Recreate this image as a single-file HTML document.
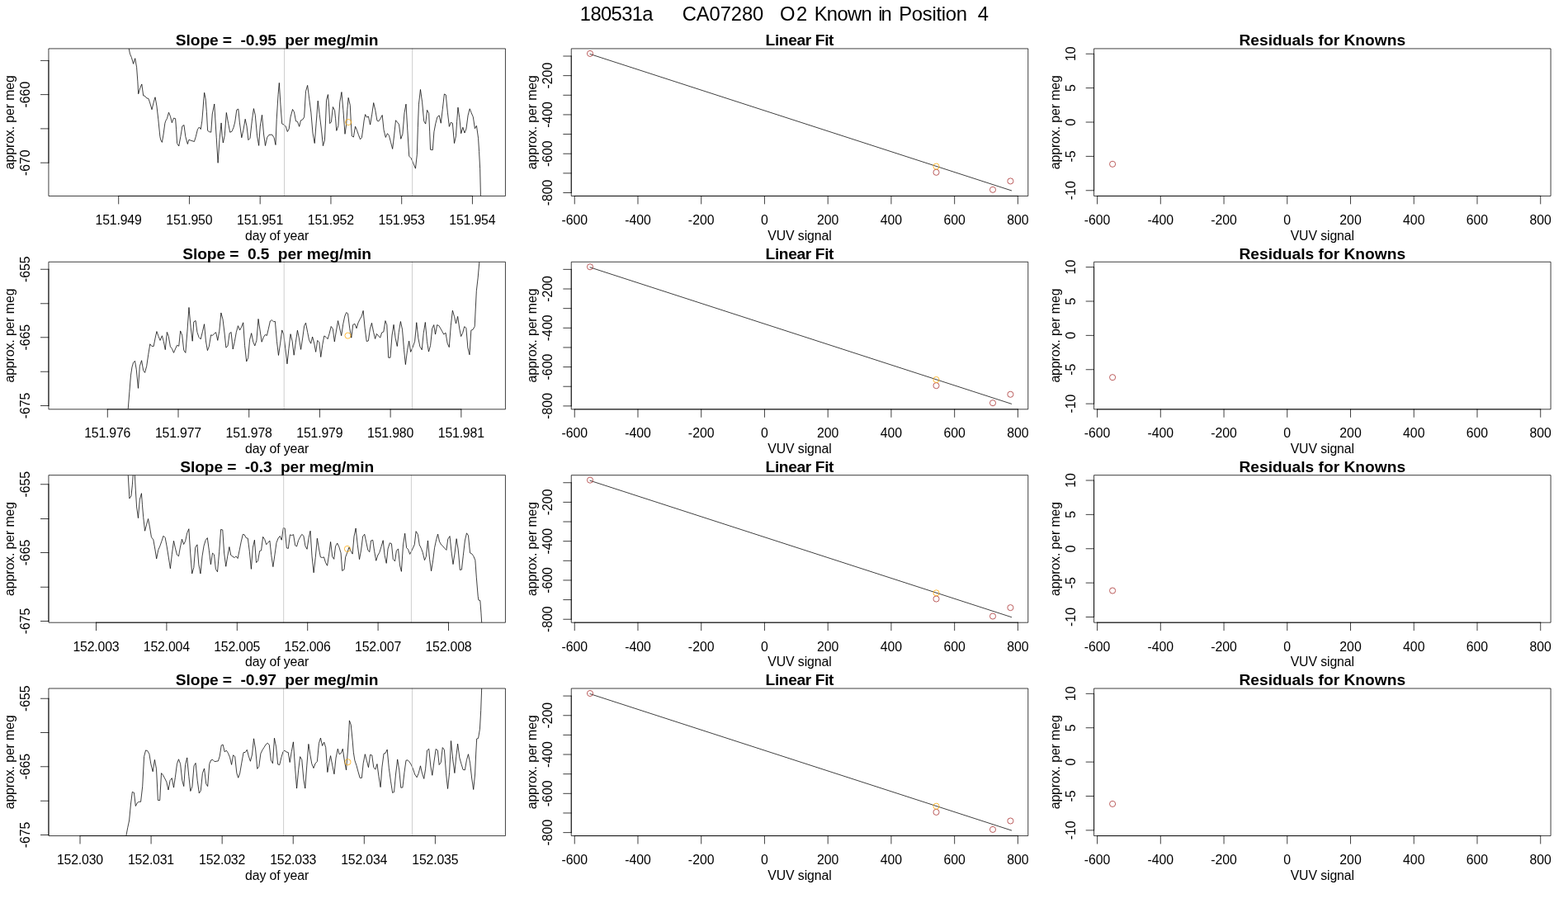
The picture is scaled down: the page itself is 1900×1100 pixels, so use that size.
<!DOCTYPE html>
<html><head><meta charset="utf-8"><title>O2 Known in Position 4</title>
<style>html,body{margin:0;padding:0;background:#fff}body{width:1900px;height:1100px;overflow:hidden}</style></head>
<body>
<svg width="1900" height="1100" viewBox="0 0 1900 1100" style="display:block">
<rect width="1900" height="1100" fill="#fff"/>
<g font-family='"Liberation Sans", Arial, Helvetica, sans-serif' fill="#000" stroke="none">
<text y="24.6" font-size="23.76" text-anchor="start" xml:space="preserve"><tspan x="702.87" textLength="88.66" lengthAdjust="spacing">180531a</tspan><tspan> </tspan><tspan x="826.68" textLength="98.64" lengthAdjust="spacing">CA07280</tspan><tspan> </tspan><tspan x="945.06" textLength="33.18" lengthAdjust="spacing">O2</tspan><tspan> </tspan><tspan x="986.69" textLength="70.02" lengthAdjust="spacing">Known</tspan><tspan> </tspan><tspan x="1064.26" textLength="16.39" lengthAdjust="spacing">in</tspan><tspan> </tspan><tspan x="1089.15" textLength="82.89" lengthAdjust="spacing">Position</tspan><tspan> </tspan><tspan x="1184.70" textLength="13.91" lengthAdjust="spacing">4</tspan></text>
<text x="335.67" y="55.32" font-size="19.2" text-anchor="middle" font-weight="bold" textLength="245.82" lengthAdjust="spacing" xml:space="preserve">Slope =  -0.95  per meg/min</text>
<clipPath id="c0"><rect x="58.925" y="58.925" width="553.500" height="178.534"/></clipPath>
<polyline points="156.22,58.87 157.46,65.11 159.33,69.47 161.58,77.33 163.70,70.72 165.57,81.32 166.82,98.16 167.69,113.76 169.69,106.89 171.81,101.91 173.68,115.88 175.55,116.25 177.80,118.99 179.92,119.37 181.79,124.98 184.03,132.72 186.40,123.11 188.02,117.75 189.89,128.10 191.77,144.32 193.89,165.52 194.88,169.89 196.38,172.38 198.00,163.03 199.87,149.31 200.87,146.19 202.37,143.69 204.49,136.21 206.48,141.20 208.36,148.68 210.48,143.07 212.60,143.69 213.59,156.79 214.59,173.63 216.71,177.00 218.83,165.52 220.83,153.05 222.95,151.43 224.82,165.52 227.32,174.50 228.94,169.26 231.06,170.14 235.42,171.51 237.29,165.52 239.42,156.79 241.41,154.05 243.28,156.54 244.78,146.81 246.03,131.84 246.90,119.37 247.65,112.26 249.14,119.99 250.39,135.58 251.64,158.29 253.51,159.66 255.76,160.16 257.25,138.08 259.75,125.98 260.75,143.07 262.24,166.77 264.11,197.33 265.98,169.26 268.10,148.93 269.10,164.27 270.35,173.01 272.22,164.27 274.34,136.46 276.59,149.31 278.71,160.28 280.95,159.28 283.07,154.29 284.69,148.06 286.82,133.09 288.81,132.09 290.31,148.06 292.80,166.77 294.92,157.41 297.17,144.32 299.04,153.05 300.91,169.64 303.03,167.39 305.28,146.81 307.40,131.59 309.27,139.33 311.51,164.27 313.63,176.37 315.26,153.05 317.50,139.33 319.62,163.03 321.49,176.50 323.61,166.77 325.86,163.40 329.60,163.03 332.09,166.77 333.97,175.50 335.21,144.32 337.08,114.38 338.33,100.41 339.95,126.85 341.70,149.93 344.19,151.18 346.19,153.05 348.31,159.53 350.18,156.17 352.05,141.82 354.55,132.47 356.42,135.58 358.54,146.81 360.53,147.43 362.66,153.30 364.53,145.81 366.65,144.94 368.64,141.82 370.51,110.64 372.63,103.40 374.74,119.92 376.86,136.13 378.98,161.08 381.23,173.55 383.10,149.85 385.22,122.16 387.21,138.63 389.33,156.09 391.45,176.67 393.45,169.81 394.57,146.11 395.57,121.16 397.44,114.55 398.69,129.89 399.69,149.60 401.43,147.73 403.43,129.52 405.55,133.64 406.55,143.62 407.80,158.33 409.92,152.35 411.79,123.66 413.91,111.56 415.90,133.64 418.02,162.33 419.65,151.10 420.89,132.39 422.14,118.42 424.26,127.40 425.26,147.36 426.38,164.82 428.38,166.07 430.50,153.22 432.37,157.34 434.49,163.57 436.48,168.81 438.36,166.69 439.85,156.09 441.10,146.11 442.60,138.63 444.47,142.12 446.46,141.12 448.58,151.10 450.70,138.63 452.70,124.53 454.82,133.64 456.94,146.11 458.81,146.98 461.06,143.62 463.18,139.50 465.05,157.34 467.29,166.44 469.42,161.70 471.41,164.20 473.53,172.31 475.65,180.41 477.52,164.82 479.52,145.74 481.39,147.98 483.51,150.85 485.76,168.31 487.88,162.33 490.00,136.76 491.99,126.15 493.86,158.58 495.73,189.14 498.10,191.64 500.35,196.63 503.47,204.11 505.34,187.27 506.34,154.84 507.46,126.15 509.46,108.44 511.58,123.66 513.70,146.73 515.69,150.10 517.56,133.39 519.68,137.38 520.68,159.83 521.56,181.29 524.30,181.66 525.92,159.83 527.79,149.85 529.91,141.74 532.16,139.87 534.28,149.23 536.27,132.39 538.39,113.93 540.27,114.93 542.39,136.13 544.38,153.35 546.25,148.36 548.37,149.23 550.49,173.55 552.49,164.82 553.61,147.36 554.98,130.14 556.73,142.37 558.73,161.70 560.85,154.22 562.97,161.08 564.96,156.09 567.08,139.87 569.20,131.77 571.20,136.76 573.32,141.74 575.44,155.72 577.44,152.35 579.56,167.32 580.56,183.53 581.68,204.74 582.43,237.42" fill="none" stroke="#000" stroke-width="0.75" stroke-linejoin="round" clip-path="url(#c0)"/>
<line x1="344.50" y1="58.92" x2="344.50" y2="237.46" stroke="#BEBEBE" stroke-width="0.75" stroke-linecap="round"/>
<line x1="499.65" y1="58.92" x2="499.65" y2="237.46" stroke="#BEBEBE" stroke-width="0.75" stroke-linecap="round"/>
<circle cx="422.10" cy="148.00" r="3.56" fill="none" stroke="#FFA500" stroke-width="0.75"/>
<rect x="58.925" y="58.925" width="553.500" height="178.534" fill="none" stroke="#000" stroke-width="0.75" stroke-linejoin="round"/>
<line x1="143.70" y1="237.46" x2="572.45" y2="237.46" stroke="#000" stroke-width="0.75" stroke-linecap="round"/>
<line x1="143.70" y1="237.46" x2="143.70" y2="246.96" stroke="#000" stroke-width="0.75" stroke-linecap="round"/>
<text x="143.70" y="272.00" font-size="15.84" text-anchor="middle" textLength="56.21" lengthAdjust="spacing" xml:space="preserve">151.949</text>
<line x1="229.45" y1="237.46" x2="229.45" y2="246.96" stroke="#000" stroke-width="0.75" stroke-linecap="round"/>
<text x="229.45" y="272.00" font-size="15.84" text-anchor="middle" textLength="56.21" lengthAdjust="spacing" xml:space="preserve">151.950</text>
<line x1="315.20" y1="237.46" x2="315.20" y2="246.96" stroke="#000" stroke-width="0.75" stroke-linecap="round"/>
<text x="315.20" y="272.00" font-size="15.84" text-anchor="middle" textLength="56.21" lengthAdjust="spacing" xml:space="preserve">151.951</text>
<line x1="400.95" y1="237.46" x2="400.95" y2="246.96" stroke="#000" stroke-width="0.75" stroke-linecap="round"/>
<text x="400.95" y="272.00" font-size="15.84" text-anchor="middle" textLength="56.21" lengthAdjust="spacing" xml:space="preserve">151.952</text>
<line x1="486.70" y1="237.46" x2="486.70" y2="246.96" stroke="#000" stroke-width="0.75" stroke-linecap="round"/>
<text x="486.70" y="272.00" font-size="15.84" text-anchor="middle" textLength="56.21" lengthAdjust="spacing" xml:space="preserve">151.953</text>
<line x1="572.45" y1="237.46" x2="572.45" y2="246.96" stroke="#000" stroke-width="0.75" stroke-linecap="round"/>
<text x="572.45" y="272.00" font-size="15.84" text-anchor="middle" textLength="56.21" lengthAdjust="spacing" xml:space="preserve">151.954</text>
<text x="335.67" y="291.00" font-size="15.84" text-anchor="middle" textLength="77.21" lengthAdjust="spacing" xml:space="preserve">day of year</text>
<line x1="49.42" y1="73.40" x2="58.92" y2="73.40" stroke="#000" stroke-width="0.75" stroke-linecap="round"/>
<line x1="49.42" y1="114.60" x2="58.92" y2="114.60" stroke="#000" stroke-width="0.75" stroke-linecap="round"/>
<text x="36.12" y="114.60" font-size="15.84" text-anchor="middle" transform="rotate(-90 36.12 114.60)" xml:space="preserve">-660</text>
<line x1="49.42" y1="155.90" x2="58.92" y2="155.90" stroke="#000" stroke-width="0.75" stroke-linecap="round"/>
<line x1="49.42" y1="197.20" x2="58.92" y2="197.20" stroke="#000" stroke-width="0.75" stroke-linecap="round"/>
<text x="36.12" y="197.20" font-size="15.84" text-anchor="middle" transform="rotate(-90 36.12 197.20)" xml:space="preserve">-670</text>
<line x1="58.92" y1="73.40" x2="58.92" y2="197.20" stroke="#000" stroke-width="0.75" stroke-linecap="round"/>
<text x="17.02" y="148.19" font-size="15.84" text-anchor="middle" transform="rotate(-90 17.02 148.19)" textLength="114.06" lengthAdjust="spacing" xml:space="preserve">approx. per meg</text>
<text x="969.01" y="55.32" font-size="19.2" text-anchor="middle" font-weight="bold" textLength="82.95" lengthAdjust="spacing" xml:space="preserve">Linear Fit</text>
<rect x="692.258" y="58.925" width="553.500" height="178.534" fill="none" stroke="#000" stroke-width="0.75" stroke-linejoin="round"/>
<line x1="696.24" y1="237.46" x2="696.24" y2="246.96" stroke="#000" stroke-width="0.75" stroke-linecap="round"/>
<text x="696.24" y="272.00" font-size="15.84" text-anchor="middle" xml:space="preserve">-600</text>
<line x1="772.98" y1="237.46" x2="772.98" y2="246.96" stroke="#000" stroke-width="0.75" stroke-linecap="round"/>
<text x="772.98" y="272.00" font-size="15.84" text-anchor="middle" xml:space="preserve">-400</text>
<line x1="849.71" y1="237.46" x2="849.71" y2="246.96" stroke="#000" stroke-width="0.75" stroke-linecap="round"/>
<text x="849.71" y="272.00" font-size="15.84" text-anchor="middle" xml:space="preserve">-200</text>
<line x1="926.45" y1="237.46" x2="926.45" y2="246.96" stroke="#000" stroke-width="0.75" stroke-linecap="round"/>
<text x="926.45" y="272.00" font-size="15.84" text-anchor="middle" xml:space="preserve">0</text>
<line x1="1003.19" y1="237.46" x2="1003.19" y2="246.96" stroke="#000" stroke-width="0.75" stroke-linecap="round"/>
<text x="1003.19" y="272.00" font-size="15.84" text-anchor="middle" xml:space="preserve">200</text>
<line x1="1079.92" y1="237.46" x2="1079.92" y2="246.96" stroke="#000" stroke-width="0.75" stroke-linecap="round"/>
<text x="1079.92" y="272.00" font-size="15.84" text-anchor="middle" xml:space="preserve">400</text>
<line x1="1156.66" y1="237.46" x2="1156.66" y2="246.96" stroke="#000" stroke-width="0.75" stroke-linecap="round"/>
<text x="1156.66" y="272.00" font-size="15.84" text-anchor="middle" xml:space="preserve">600</text>
<line x1="1233.39" y1="237.46" x2="1233.39" y2="246.96" stroke="#000" stroke-width="0.75" stroke-linecap="round"/>
<text x="1233.39" y="272.00" font-size="15.84" text-anchor="middle" xml:space="preserve">800</text>
<line x1="696.24" y1="237.46" x2="1233.39" y2="237.46" stroke="#000" stroke-width="0.75" stroke-linecap="round"/>
<line x1="682.75" y1="233.50" x2="692.26" y2="233.50" stroke="#000" stroke-width="0.75" stroke-linecap="round"/>
<text x="669.46" y="233.50" font-size="15.84" text-anchor="middle" transform="rotate(-90 669.46 233.50)" xml:space="preserve">-800</text>
<line x1="682.75" y1="209.86" x2="692.26" y2="209.86" stroke="#000" stroke-width="0.75" stroke-linecap="round"/>
<line x1="682.75" y1="186.22" x2="692.26" y2="186.22" stroke="#000" stroke-width="0.75" stroke-linecap="round"/>
<text x="669.46" y="186.22" font-size="15.84" text-anchor="middle" transform="rotate(-90 669.46 186.22)" xml:space="preserve">-600</text>
<line x1="682.75" y1="162.57" x2="692.26" y2="162.57" stroke="#000" stroke-width="0.75" stroke-linecap="round"/>
<line x1="682.75" y1="138.93" x2="692.26" y2="138.93" stroke="#000" stroke-width="0.75" stroke-linecap="round"/>
<text x="669.46" y="138.93" font-size="15.84" text-anchor="middle" transform="rotate(-90 669.46 138.93)" xml:space="preserve">-400</text>
<line x1="682.75" y1="115.29" x2="692.26" y2="115.29" stroke="#000" stroke-width="0.75" stroke-linecap="round"/>
<line x1="682.75" y1="91.64" x2="692.26" y2="91.64" stroke="#000" stroke-width="0.75" stroke-linecap="round"/>
<text x="669.46" y="91.64" font-size="15.84" text-anchor="middle" transform="rotate(-90 669.46 91.64)" xml:space="preserve">-200</text>
<line x1="682.75" y1="68.00" x2="692.26" y2="68.00" stroke="#000" stroke-width="0.75" stroke-linecap="round"/>
<line x1="692.26" y1="233.50" x2="692.26" y2="68.00" stroke="#000" stroke-width="0.75" stroke-linecap="round"/>
<text x="650.36" y="148.19" font-size="15.84" text-anchor="middle" transform="rotate(-90 650.36 148.19)" textLength="114.06" lengthAdjust="spacing" xml:space="preserve">approx. per meg</text>
<text x="969.01" y="291.00" font-size="15.84" text-anchor="middle" textLength="77.40" lengthAdjust="spacing" xml:space="preserve">VUV signal</text>
<line x1="715.00" y1="65.50" x2="1225.60" y2="230.90" stroke="#000" stroke-width="0.75" stroke-linecap="round"/>
<circle cx="715.00" cy="64.90" r="3.56" fill="none" stroke="#A52A2A" stroke-width="0.75"/>
<circle cx="1134.50" cy="208.80" r="3.56" fill="none" stroke="#A52A2A" stroke-width="0.75"/>
<circle cx="1203.00" cy="229.80" r="3.56" fill="none" stroke="#A52A2A" stroke-width="0.75"/>
<circle cx="1224.40" cy="219.40" r="3.56" fill="none" stroke="#A52A2A" stroke-width="0.75"/>
<circle cx="1134.50" cy="201.60" r="3.56" fill="none" stroke="#FFA500" stroke-width="0.75"/>
<text x="1602.34" y="55.32" font-size="19.2" text-anchor="middle" font-weight="bold" textLength="201.70" lengthAdjust="spacing" xml:space="preserve">Residuals for Knowns</text>
<rect x="1325.591" y="58.925" width="553.500" height="178.534" fill="none" stroke="#000" stroke-width="0.75" stroke-linejoin="round"/>
<line x1="1329.58" y1="237.46" x2="1329.58" y2="246.96" stroke="#000" stroke-width="0.75" stroke-linecap="round"/>
<text x="1329.58" y="272.00" font-size="15.84" text-anchor="middle" xml:space="preserve">-600</text>
<line x1="1406.31" y1="237.46" x2="1406.31" y2="246.96" stroke="#000" stroke-width="0.75" stroke-linecap="round"/>
<text x="1406.31" y="272.00" font-size="15.84" text-anchor="middle" xml:space="preserve">-400</text>
<line x1="1483.05" y1="237.46" x2="1483.05" y2="246.96" stroke="#000" stroke-width="0.75" stroke-linecap="round"/>
<text x="1483.05" y="272.00" font-size="15.84" text-anchor="middle" xml:space="preserve">-200</text>
<line x1="1559.78" y1="237.46" x2="1559.78" y2="246.96" stroke="#000" stroke-width="0.75" stroke-linecap="round"/>
<text x="1559.78" y="272.00" font-size="15.84" text-anchor="middle" xml:space="preserve">0</text>
<line x1="1636.52" y1="237.46" x2="1636.52" y2="246.96" stroke="#000" stroke-width="0.75" stroke-linecap="round"/>
<text x="1636.52" y="272.00" font-size="15.84" text-anchor="middle" xml:space="preserve">200</text>
<line x1="1713.26" y1="237.46" x2="1713.26" y2="246.96" stroke="#000" stroke-width="0.75" stroke-linecap="round"/>
<text x="1713.26" y="272.00" font-size="15.84" text-anchor="middle" xml:space="preserve">400</text>
<line x1="1789.99" y1="237.46" x2="1789.99" y2="246.96" stroke="#000" stroke-width="0.75" stroke-linecap="round"/>
<text x="1789.99" y="272.00" font-size="15.84" text-anchor="middle" xml:space="preserve">600</text>
<line x1="1866.73" y1="237.46" x2="1866.73" y2="246.96" stroke="#000" stroke-width="0.75" stroke-linecap="round"/>
<text x="1866.73" y="272.00" font-size="15.84" text-anchor="middle" xml:space="preserve">800</text>
<line x1="1329.58" y1="237.46" x2="1866.73" y2="237.46" stroke="#000" stroke-width="0.75" stroke-linecap="round"/>
<line x1="1316.09" y1="230.75" x2="1325.59" y2="230.75" stroke="#000" stroke-width="0.75" stroke-linecap="round"/>
<text x="1302.79" y="230.75" font-size="15.84" text-anchor="middle" transform="rotate(-90 1302.79 230.75)" xml:space="preserve">-10</text>
<line x1="1316.09" y1="189.38" x2="1325.59" y2="189.38" stroke="#000" stroke-width="0.75" stroke-linecap="round"/>
<text x="1302.79" y="189.38" font-size="15.84" text-anchor="middle" transform="rotate(-90 1302.79 189.38)" xml:space="preserve">-5</text>
<line x1="1316.09" y1="148.00" x2="1325.59" y2="148.00" stroke="#000" stroke-width="0.75" stroke-linecap="round"/>
<text x="1302.79" y="148.00" font-size="15.84" text-anchor="middle" transform="rotate(-90 1302.79 148.00)" xml:space="preserve">0</text>
<line x1="1316.09" y1="106.62" x2="1325.59" y2="106.62" stroke="#000" stroke-width="0.75" stroke-linecap="round"/>
<text x="1302.79" y="106.62" font-size="15.84" text-anchor="middle" transform="rotate(-90 1302.79 106.62)" xml:space="preserve">5</text>
<line x1="1316.09" y1="65.25" x2="1325.59" y2="65.25" stroke="#000" stroke-width="0.75" stroke-linecap="round"/>
<text x="1302.79" y="65.25" font-size="15.84" text-anchor="middle" transform="rotate(-90 1302.79 65.25)" xml:space="preserve">10</text>
<line x1="1325.59" y1="230.75" x2="1325.59" y2="65.25" stroke="#000" stroke-width="0.75" stroke-linecap="round"/>
<text x="1283.69" y="148.19" font-size="15.84" text-anchor="middle" transform="rotate(-90 1283.69 148.19)" textLength="114.06" lengthAdjust="spacing" xml:space="preserve">approx. per meg</text>
<text x="1602.34" y="291.00" font-size="15.84" text-anchor="middle" textLength="77.40" lengthAdjust="spacing" xml:space="preserve">VUV signal</text>
<circle cx="1348.10" cy="198.80" r="3.56" fill="none" stroke="#A52A2A" stroke-width="0.75"/>
<text x="335.67" y="313.69" font-size="19.2" text-anchor="middle" font-weight="bold" textLength="228.86" lengthAdjust="spacing" xml:space="preserve">Slope =  0.5  per meg/min</text>
<clipPath id="c1"><rect x="58.925" y="317.293" width="553.500" height="178.534"/></clipPath>
<polyline points="155.24,495.09 156.86,474.76 158.48,454.80 159.98,444.82 161.60,439.21 163.47,437.34 165.22,447.32 167.46,470.39 169.33,443.57 171.58,436.71 173.70,448.81 175.57,451.43 177.69,443.57 179.69,429.85 181.81,416.76 183.68,419.25 186.17,419.50 188.04,409.89 189.92,401.54 192.04,407.40 194.03,412.39 196.40,406.78 198.27,413.64 200.27,423.62 202.39,402.41 204.26,407.40 206.38,419.87 208.38,422.37 210.50,427.36 212.37,422.99 214.49,418.25 216.73,419.25 218.61,400.91 220.73,406.15 222.72,424.24 224.84,427.36 226.96,401.16 228.96,372.47 231.08,396.17 233.20,413.26 234.82,389.94 237.07,388.44 238.94,402.41 241.06,408.65 243.18,410.89 245.42,401.79 247.54,392.68 249.42,413.01 251.41,424.61 253.28,419.87 255.65,405.78 257.52,406.40 259.52,404.28 261.64,402.66 263.76,412.39 265.76,401.16 267.88,378.96 270.00,386.82 271.99,403.03 273.86,421.12 275.98,419.25 278.10,403.91 280.10,402.41 282.22,422.99 284.34,413.64 286.34,402.41 288.46,394.68 290.58,399.92 292.57,396.17 294.69,390.81 296.57,418.63 298.69,437.96 300.68,433.59 302.55,411.77 304.67,403.66 306.79,414.26 308.79,418.88 310.91,412.39 313.03,386.44 315.03,399.92 317.15,414.26 319.27,408.65 321.26,405.53 323.38,406.40 325.26,398.67 327.38,388.94 329.37,387.69 331.49,389.69 333.36,389.31 335.48,413.64 337.48,430.48 339.60,416.13 341.72,399.92 343.72,404.91 345.84,422.37 347.96,440.83 349.95,422.37 352.07,404.66 354.19,413.64 356.19,430.23 358.31,414.88 360.43,400.17 362.43,409.89 364.55,423.37 366.67,409.89 368.66,394.93 370.53,391.18 372.66,402.41 374.53,411.77 376.65,416.13 378.64,408.02 380.76,416.13 382.63,426.36 384.74,412.42 386.86,414.79 388.73,432.50 390.85,417.28 392.85,406.93 394.97,408.30 397.09,410.67 399.08,404.19 401.21,395.46 403.33,398.57 405.32,413.92 407.44,401.07 409.56,388.59 411.56,397.33 413.68,406.68 415.80,392.34 417.80,382.98 419.67,378.62 421.54,379.86 423.66,397.33 425.78,409.18 427.77,393.33 429.89,392.34 432.02,397.70 434.01,391.09 436.13,386.72 438.25,382.98 440.12,376.37 442.12,397.33 444.24,413.54 446.36,412.92 448.36,398.57 450.48,391.34 452.60,402.32 454.59,410.42 456.46,404.44 458.58,406.93 460.70,409.18 462.70,402.94 464.82,401.94 466.94,388.59 468.81,393.58 470.68,433.25 472.93,433.25 475.05,406.06 477.05,393.33 479.17,409.80 481.29,419.53 483.28,402.32 485.40,389.47 487.52,399.20 489.52,423.52 491.39,441.61 493.51,424.77 495.63,413.17 497.63,426.39 500.00,421.03 502.62,413.54 504.74,390.72 506.86,409.80 508.85,419.78 511.22,423.77 513.22,403.56 515.34,390.47 517.46,413.54 519.46,426.02 521.58,418.53 523.70,397.95 525.69,393.58 527.56,405.06 529.68,393.58 531.80,394.58 533.80,397.95 535.92,401.69 537.79,405.06 540.04,403.19 542.16,416.04 544.28,420.65 546.27,394.83 548.39,376.12 550.52,383.36 552.51,391.96 554.63,383.36 556.75,397.95 558.62,407.55 560.62,403.56 562.74,395.70 564.86,397.33 566.86,421.03 568.98,429.76 570.85,400.20 573.09,399.20 575.21,395.46 576.21,374.87 577.33,352.42 579.20,336.21 580.83,317.25" fill="none" stroke="#000" stroke-width="0.75" stroke-linejoin="round" clip-path="url(#c1)"/>
<line x1="344.20" y1="317.29" x2="344.20" y2="495.83" stroke="#BEBEBE" stroke-width="0.75" stroke-linecap="round"/>
<line x1="499.45" y1="317.29" x2="499.45" y2="495.83" stroke="#BEBEBE" stroke-width="0.75" stroke-linecap="round"/>
<circle cx="421.50" cy="406.60" r="3.56" fill="none" stroke="#FFA500" stroke-width="0.75"/>
<rect x="58.925" y="317.293" width="553.500" height="178.534" fill="none" stroke="#000" stroke-width="0.75" stroke-linejoin="round"/>
<line x1="130.30" y1="495.83" x2="558.85" y2="495.83" stroke="#000" stroke-width="0.75" stroke-linecap="round"/>
<line x1="130.30" y1="495.83" x2="130.30" y2="505.33" stroke="#000" stroke-width="0.75" stroke-linecap="round"/>
<text x="130.30" y="530.00" font-size="15.84" text-anchor="middle" textLength="56.21" lengthAdjust="spacing" xml:space="preserve">151.976</text>
<line x1="216.01" y1="495.83" x2="216.01" y2="505.33" stroke="#000" stroke-width="0.75" stroke-linecap="round"/>
<text x="216.01" y="530.00" font-size="15.84" text-anchor="middle" textLength="56.21" lengthAdjust="spacing" xml:space="preserve">151.977</text>
<line x1="301.72" y1="495.83" x2="301.72" y2="505.33" stroke="#000" stroke-width="0.75" stroke-linecap="round"/>
<text x="301.72" y="530.00" font-size="15.84" text-anchor="middle" textLength="56.21" lengthAdjust="spacing" xml:space="preserve">151.978</text>
<line x1="387.43" y1="495.83" x2="387.43" y2="505.33" stroke="#000" stroke-width="0.75" stroke-linecap="round"/>
<text x="387.43" y="530.00" font-size="15.84" text-anchor="middle" textLength="56.21" lengthAdjust="spacing" xml:space="preserve">151.979</text>
<line x1="473.14" y1="495.83" x2="473.14" y2="505.33" stroke="#000" stroke-width="0.75" stroke-linecap="round"/>
<text x="473.14" y="530.00" font-size="15.84" text-anchor="middle" textLength="56.21" lengthAdjust="spacing" xml:space="preserve">151.980</text>
<line x1="558.85" y1="495.83" x2="558.85" y2="505.33" stroke="#000" stroke-width="0.75" stroke-linecap="round"/>
<text x="558.85" y="530.00" font-size="15.84" text-anchor="middle" textLength="56.21" lengthAdjust="spacing" xml:space="preserve">151.981</text>
<text x="335.67" y="549.00" font-size="15.84" text-anchor="middle" textLength="77.21" lengthAdjust="spacing" xml:space="preserve">day of year</text>
<line x1="49.42" y1="326.25" x2="58.92" y2="326.25" stroke="#000" stroke-width="0.75" stroke-linecap="round"/>
<text x="36.12" y="326.25" font-size="15.84" text-anchor="middle" transform="rotate(-90 36.12 326.25)" xml:space="preserve">-655</text>
<line x1="49.42" y1="367.75" x2="58.92" y2="367.75" stroke="#000" stroke-width="0.75" stroke-linecap="round"/>
<line x1="49.42" y1="408.75" x2="58.92" y2="408.75" stroke="#000" stroke-width="0.75" stroke-linecap="round"/>
<text x="36.12" y="408.75" font-size="15.84" text-anchor="middle" transform="rotate(-90 36.12 408.75)" xml:space="preserve">-665</text>
<line x1="49.42" y1="450.25" x2="58.92" y2="450.25" stroke="#000" stroke-width="0.75" stroke-linecap="round"/>
<line x1="49.42" y1="491.50" x2="58.92" y2="491.50" stroke="#000" stroke-width="0.75" stroke-linecap="round"/>
<text x="36.12" y="491.50" font-size="15.84" text-anchor="middle" transform="rotate(-90 36.12 491.50)" xml:space="preserve">-675</text>
<line x1="58.92" y1="326.25" x2="58.92" y2="491.50" stroke="#000" stroke-width="0.75" stroke-linecap="round"/>
<text x="17.02" y="406.56" font-size="15.84" text-anchor="middle" transform="rotate(-90 17.02 406.56)" textLength="114.06" lengthAdjust="spacing" xml:space="preserve">approx. per meg</text>
<text x="969.01" y="313.69" font-size="19.2" text-anchor="middle" font-weight="bold" textLength="82.95" lengthAdjust="spacing" xml:space="preserve">Linear Fit</text>
<rect x="692.258" y="317.293" width="553.500" height="178.534" fill="none" stroke="#000" stroke-width="0.75" stroke-linejoin="round"/>
<line x1="696.24" y1="495.83" x2="696.24" y2="505.33" stroke="#000" stroke-width="0.75" stroke-linecap="round"/>
<text x="696.24" y="530.00" font-size="15.84" text-anchor="middle" xml:space="preserve">-600</text>
<line x1="772.98" y1="495.83" x2="772.98" y2="505.33" stroke="#000" stroke-width="0.75" stroke-linecap="round"/>
<text x="772.98" y="530.00" font-size="15.84" text-anchor="middle" xml:space="preserve">-400</text>
<line x1="849.71" y1="495.83" x2="849.71" y2="505.33" stroke="#000" stroke-width="0.75" stroke-linecap="round"/>
<text x="849.71" y="530.00" font-size="15.84" text-anchor="middle" xml:space="preserve">-200</text>
<line x1="926.45" y1="495.83" x2="926.45" y2="505.33" stroke="#000" stroke-width="0.75" stroke-linecap="round"/>
<text x="926.45" y="530.00" font-size="15.84" text-anchor="middle" xml:space="preserve">0</text>
<line x1="1003.19" y1="495.83" x2="1003.19" y2="505.33" stroke="#000" stroke-width="0.75" stroke-linecap="round"/>
<text x="1003.19" y="530.00" font-size="15.84" text-anchor="middle" xml:space="preserve">200</text>
<line x1="1079.92" y1="495.83" x2="1079.92" y2="505.33" stroke="#000" stroke-width="0.75" stroke-linecap="round"/>
<text x="1079.92" y="530.00" font-size="15.84" text-anchor="middle" xml:space="preserve">400</text>
<line x1="1156.66" y1="495.83" x2="1156.66" y2="505.33" stroke="#000" stroke-width="0.75" stroke-linecap="round"/>
<text x="1156.66" y="530.00" font-size="15.84" text-anchor="middle" xml:space="preserve">600</text>
<line x1="1233.39" y1="495.83" x2="1233.39" y2="505.33" stroke="#000" stroke-width="0.75" stroke-linecap="round"/>
<text x="1233.39" y="530.00" font-size="15.84" text-anchor="middle" xml:space="preserve">800</text>
<line x1="696.24" y1="495.83" x2="1233.39" y2="495.83" stroke="#000" stroke-width="0.75" stroke-linecap="round"/>
<line x1="682.75" y1="491.87" x2="692.26" y2="491.87" stroke="#000" stroke-width="0.75" stroke-linecap="round"/>
<text x="669.46" y="491.87" font-size="15.84" text-anchor="middle" transform="rotate(-90 669.46 491.87)" xml:space="preserve">-800</text>
<line x1="682.75" y1="468.23" x2="692.26" y2="468.23" stroke="#000" stroke-width="0.75" stroke-linecap="round"/>
<line x1="682.75" y1="444.58" x2="692.26" y2="444.58" stroke="#000" stroke-width="0.75" stroke-linecap="round"/>
<text x="669.46" y="444.58" font-size="15.84" text-anchor="middle" transform="rotate(-90 669.46 444.58)" xml:space="preserve">-600</text>
<line x1="682.75" y1="420.94" x2="692.26" y2="420.94" stroke="#000" stroke-width="0.75" stroke-linecap="round"/>
<line x1="682.75" y1="397.30" x2="692.26" y2="397.30" stroke="#000" stroke-width="0.75" stroke-linecap="round"/>
<text x="669.46" y="397.30" font-size="15.84" text-anchor="middle" transform="rotate(-90 669.46 397.30)" xml:space="preserve">-400</text>
<line x1="682.75" y1="373.65" x2="692.26" y2="373.65" stroke="#000" stroke-width="0.75" stroke-linecap="round"/>
<line x1="682.75" y1="350.01" x2="692.26" y2="350.01" stroke="#000" stroke-width="0.75" stroke-linecap="round"/>
<text x="669.46" y="350.01" font-size="15.84" text-anchor="middle" transform="rotate(-90 669.46 350.01)" xml:space="preserve">-200</text>
<line x1="682.75" y1="326.37" x2="692.26" y2="326.37" stroke="#000" stroke-width="0.75" stroke-linecap="round"/>
<line x1="692.26" y1="491.87" x2="692.26" y2="326.37" stroke="#000" stroke-width="0.75" stroke-linecap="round"/>
<text x="650.36" y="406.56" font-size="15.84" text-anchor="middle" transform="rotate(-90 650.36 406.56)" textLength="114.06" lengthAdjust="spacing" xml:space="preserve">approx. per meg</text>
<text x="969.01" y="549.00" font-size="15.84" text-anchor="middle" textLength="77.40" lengthAdjust="spacing" xml:space="preserve">VUV signal</text>
<line x1="715.00" y1="323.87" x2="1225.60" y2="489.27" stroke="#000" stroke-width="0.75" stroke-linecap="round"/>
<circle cx="715.00" cy="323.27" r="3.56" fill="none" stroke="#A52A2A" stroke-width="0.75"/>
<circle cx="1134.50" cy="467.17" r="3.56" fill="none" stroke="#A52A2A" stroke-width="0.75"/>
<circle cx="1203.00" cy="488.17" r="3.56" fill="none" stroke="#A52A2A" stroke-width="0.75"/>
<circle cx="1224.40" cy="477.77" r="3.56" fill="none" stroke="#A52A2A" stroke-width="0.75"/>
<circle cx="1134.50" cy="459.97" r="3.56" fill="none" stroke="#FFA500" stroke-width="0.75"/>
<text x="1602.34" y="313.69" font-size="19.2" text-anchor="middle" font-weight="bold" textLength="201.70" lengthAdjust="spacing" xml:space="preserve">Residuals for Knowns</text>
<rect x="1325.591" y="317.293" width="553.500" height="178.534" fill="none" stroke="#000" stroke-width="0.75" stroke-linejoin="round"/>
<line x1="1329.58" y1="495.83" x2="1329.58" y2="505.33" stroke="#000" stroke-width="0.75" stroke-linecap="round"/>
<text x="1329.58" y="530.00" font-size="15.84" text-anchor="middle" xml:space="preserve">-600</text>
<line x1="1406.31" y1="495.83" x2="1406.31" y2="505.33" stroke="#000" stroke-width="0.75" stroke-linecap="round"/>
<text x="1406.31" y="530.00" font-size="15.84" text-anchor="middle" xml:space="preserve">-400</text>
<line x1="1483.05" y1="495.83" x2="1483.05" y2="505.33" stroke="#000" stroke-width="0.75" stroke-linecap="round"/>
<text x="1483.05" y="530.00" font-size="15.84" text-anchor="middle" xml:space="preserve">-200</text>
<line x1="1559.78" y1="495.83" x2="1559.78" y2="505.33" stroke="#000" stroke-width="0.75" stroke-linecap="round"/>
<text x="1559.78" y="530.00" font-size="15.84" text-anchor="middle" xml:space="preserve">0</text>
<line x1="1636.52" y1="495.83" x2="1636.52" y2="505.33" stroke="#000" stroke-width="0.75" stroke-linecap="round"/>
<text x="1636.52" y="530.00" font-size="15.84" text-anchor="middle" xml:space="preserve">200</text>
<line x1="1713.26" y1="495.83" x2="1713.26" y2="505.33" stroke="#000" stroke-width="0.75" stroke-linecap="round"/>
<text x="1713.26" y="530.00" font-size="15.84" text-anchor="middle" xml:space="preserve">400</text>
<line x1="1789.99" y1="495.83" x2="1789.99" y2="505.33" stroke="#000" stroke-width="0.75" stroke-linecap="round"/>
<text x="1789.99" y="530.00" font-size="15.84" text-anchor="middle" xml:space="preserve">600</text>
<line x1="1866.73" y1="495.83" x2="1866.73" y2="505.33" stroke="#000" stroke-width="0.75" stroke-linecap="round"/>
<text x="1866.73" y="530.00" font-size="15.84" text-anchor="middle" xml:space="preserve">800</text>
<line x1="1329.58" y1="495.83" x2="1866.73" y2="495.83" stroke="#000" stroke-width="0.75" stroke-linecap="round"/>
<line x1="1316.09" y1="489.12" x2="1325.59" y2="489.12" stroke="#000" stroke-width="0.75" stroke-linecap="round"/>
<text x="1302.79" y="489.12" font-size="15.84" text-anchor="middle" transform="rotate(-90 1302.79 489.12)" xml:space="preserve">-10</text>
<line x1="1316.09" y1="447.74" x2="1325.59" y2="447.74" stroke="#000" stroke-width="0.75" stroke-linecap="round"/>
<text x="1302.79" y="447.74" font-size="15.84" text-anchor="middle" transform="rotate(-90 1302.79 447.74)" xml:space="preserve">-5</text>
<line x1="1316.09" y1="406.37" x2="1325.59" y2="406.37" stroke="#000" stroke-width="0.75" stroke-linecap="round"/>
<text x="1302.79" y="406.37" font-size="15.84" text-anchor="middle" transform="rotate(-90 1302.79 406.37)" xml:space="preserve">0</text>
<line x1="1316.09" y1="364.99" x2="1325.59" y2="364.99" stroke="#000" stroke-width="0.75" stroke-linecap="round"/>
<text x="1302.79" y="364.99" font-size="15.84" text-anchor="middle" transform="rotate(-90 1302.79 364.99)" xml:space="preserve">5</text>
<line x1="1316.09" y1="323.62" x2="1325.59" y2="323.62" stroke="#000" stroke-width="0.75" stroke-linecap="round"/>
<text x="1302.79" y="323.62" font-size="15.84" text-anchor="middle" transform="rotate(-90 1302.79 323.62)" xml:space="preserve">10</text>
<line x1="1325.59" y1="489.12" x2="1325.59" y2="323.62" stroke="#000" stroke-width="0.75" stroke-linecap="round"/>
<text x="1283.69" y="406.56" font-size="15.84" text-anchor="middle" transform="rotate(-90 1283.69 406.56)" textLength="114.06" lengthAdjust="spacing" xml:space="preserve">approx. per meg</text>
<text x="1602.34" y="549.00" font-size="15.84" text-anchor="middle" textLength="77.40" lengthAdjust="spacing" xml:space="preserve">VUV signal</text>
<circle cx="1348.10" cy="457.17" r="3.56" fill="none" stroke="#A52A2A" stroke-width="0.75"/>
<text x="335.67" y="572.06" font-size="19.2" text-anchor="middle" font-weight="bold" textLength="234.95" lengthAdjust="spacing" xml:space="preserve">Slope =  -0.3  per meg/min</text>
<clipPath id="c2"><rect x="58.925" y="575.661" width="553.500" height="178.534"/></clipPath>
<polyline points="155.24,575.50 156.86,603.94 158.98,600.82 160.35,587.72 161.23,575.50 162.22,564.02 163.35,575.50 164.34,593.96 165.59,613.92 167.46,627.64 169.33,605.18 171.45,597.70 172.45,611.42 173.70,626.39 175.57,643.23 177.69,635.12 179.56,628.51 181.56,638.86 183.43,650.71 185.80,653.83 187.80,665.06 189.67,676.91 191.79,666.31 193.91,661.32 195.90,655.70 198.02,649.22 200.14,651.34 202.14,661.94 204.26,675.04 206.38,688.76 208.38,671.29 210.50,655.33 212.37,663.81 214.49,672.17 216.48,673.79 218.36,663.19 220.48,653.21 222.60,659.44 224.59,655.70 226.71,645.72 228.83,640.73 230.70,670.05 232.70,694.99 234.82,687.51 236.69,663.19 238.94,659.82 240.81,683.77 242.93,694.99 245.05,673.79 247.05,661.32 249.17,654.46 251.29,651.59 253.28,666.31 255.40,683.77 257.52,670.05 259.52,671.92 261.39,689.38 263.51,692.75 265.63,668.80 267.63,641.36 269.75,641.98 271.62,670.05 273.74,686.26 275.73,673.79 277.86,662.56 279.73,672.54 281.97,674.16 284.09,675.66 285.96,673.79 288.08,676.53 290.08,666.93 292.20,656.33 294.32,647.35 296.19,647.84 298.19,651.59 300.31,652.21 302.43,668.80 304.42,689.38 306.30,663.81 308.42,654.21 310.54,681.52 312.53,679.40 314.65,667.55 316.52,666.93 318.64,650.34 320.64,653.21 322.76,659.69 324.63,657.57 326.88,655.08 328.75,672.54 330.87,686.64 332.99,671.92 334.98,657.57 337.11,651.96 339.23,649.47 341.22,654.21 343.34,639.49 345.21,640.11 347.33,663.81 349.33,664.43 351.45,647.84 353.57,648.59 355.57,647.59 357.69,660.69 359.56,661.94 361.68,654.46 363.67,650.71 365.79,647.35 367.92,649.22 369.91,661.32 372.03,665.31 374.15,651.59 376.02,643.23 378.02,673.79 380.14,693.75 382.25,675.51 384.37,652.18 386.49,664.91 388.36,674.88 390.35,675.51 392.47,674.88 394.59,681.74 396.59,685.24 398.71,671.14 400.58,656.42 402.70,674.26 404.70,677.38 406.57,661.79 408.69,658.04 410.81,662.41 413.06,669.89 414.68,691.47 417.05,689.85 418.67,674.88 420.79,669.27 423.03,663.03 425.15,667.40 427.15,671.14 429.02,649.94 431.14,639.96 433.26,659.92 435.51,677.63 437.63,666.15 439.62,649.94 441.74,647.19 443.62,656.17 445.74,666.15 447.73,668.65 449.60,654.93 451.72,654.30 453.59,667.40 455.72,679.25 457.71,673.01 459.83,669.27 461.95,662.41 464.20,654.68 466.07,672.39 468.19,682.37 470.06,664.91 472.31,657.80 474.43,658.67 476.30,677.38 478.54,679.87 480.41,667.15 482.53,664.91 484.53,684.86 486.40,692.35 488.52,659.92 490.64,646.19 492.64,663.66 494.51,665.53 496.63,671.39 499.37,666.15 502.24,659.92 504.11,643.70 506.36,647.44 508.23,659.92 510.35,664.28 512.22,669.27 514.47,678.63 516.34,674.26 518.46,654.93 520.58,677.38 522.57,691.72 524.69,678.63 526.57,663.66 528.69,653.68 530.56,647.07 532.55,656.17 534.67,659.92 536.79,661.79 538.79,664.28 540.91,666.40 542.78,653.06 545.03,649.56 546.90,667.40 549.02,683.62 551.14,669.89 553.13,652.68 555.26,666.15 557.38,690.48 559.37,690.10 561.24,673.64 563.36,654.93 565.48,645.82 567.48,648.69 569.60,669.89 571.72,670.89 573.72,673.64 575.84,678.63 577.33,699.83 579.20,722.28 579.95,727.02 581.82,727.52 582.95,742.24 583.70,754.47" fill="none" stroke="#000" stroke-width="0.75" stroke-linejoin="round" clip-path="url(#c2)"/>
<line x1="343.70" y1="575.66" x2="343.70" y2="754.20" stroke="#BEBEBE" stroke-width="0.75" stroke-linecap="round"/>
<line x1="498.40" y1="575.66" x2="498.40" y2="754.20" stroke="#BEBEBE" stroke-width="0.75" stroke-linecap="round"/>
<circle cx="420.90" cy="664.90" r="3.56" fill="none" stroke="#FFA500" stroke-width="0.75"/>
<rect x="58.925" y="575.661" width="553.500" height="178.534" fill="none" stroke="#000" stroke-width="0.75" stroke-linejoin="round"/>
<line x1="116.50" y1="754.20" x2="543.50" y2="754.20" stroke="#000" stroke-width="0.75" stroke-linecap="round"/>
<line x1="116.50" y1="754.20" x2="116.50" y2="763.70" stroke="#000" stroke-width="0.75" stroke-linecap="round"/>
<text x="116.50" y="789.00" font-size="15.84" text-anchor="middle" textLength="56.21" lengthAdjust="spacing" xml:space="preserve">152.003</text>
<line x1="201.90" y1="754.20" x2="201.90" y2="763.70" stroke="#000" stroke-width="0.75" stroke-linecap="round"/>
<text x="201.90" y="789.00" font-size="15.84" text-anchor="middle" textLength="56.21" lengthAdjust="spacing" xml:space="preserve">152.004</text>
<line x1="287.30" y1="754.20" x2="287.30" y2="763.70" stroke="#000" stroke-width="0.75" stroke-linecap="round"/>
<text x="287.30" y="789.00" font-size="15.84" text-anchor="middle" textLength="56.21" lengthAdjust="spacing" xml:space="preserve">152.005</text>
<line x1="372.70" y1="754.20" x2="372.70" y2="763.70" stroke="#000" stroke-width="0.75" stroke-linecap="round"/>
<text x="372.70" y="789.00" font-size="15.84" text-anchor="middle" textLength="56.21" lengthAdjust="spacing" xml:space="preserve">152.006</text>
<line x1="458.10" y1="754.20" x2="458.10" y2="763.70" stroke="#000" stroke-width="0.75" stroke-linecap="round"/>
<text x="458.10" y="789.00" font-size="15.84" text-anchor="middle" textLength="56.21" lengthAdjust="spacing" xml:space="preserve">152.007</text>
<line x1="543.50" y1="754.20" x2="543.50" y2="763.70" stroke="#000" stroke-width="0.75" stroke-linecap="round"/>
<text x="543.50" y="789.00" font-size="15.84" text-anchor="middle" textLength="56.21" lengthAdjust="spacing" xml:space="preserve">152.008</text>
<text x="335.67" y="807.00" font-size="15.84" text-anchor="middle" textLength="77.21" lengthAdjust="spacing" xml:space="preserve">day of year</text>
<line x1="49.42" y1="586.75" x2="58.92" y2="586.75" stroke="#000" stroke-width="0.75" stroke-linecap="round"/>
<text x="36.12" y="586.75" font-size="15.84" text-anchor="middle" transform="rotate(-90 36.12 586.75)" xml:space="preserve">-655</text>
<line x1="49.42" y1="628.50" x2="58.92" y2="628.50" stroke="#000" stroke-width="0.75" stroke-linecap="round"/>
<line x1="49.42" y1="669.50" x2="58.92" y2="669.50" stroke="#000" stroke-width="0.75" stroke-linecap="round"/>
<text x="36.12" y="669.50" font-size="15.84" text-anchor="middle" transform="rotate(-90 36.12 669.50)" xml:space="preserve">-665</text>
<line x1="49.42" y1="711.25" x2="58.92" y2="711.25" stroke="#000" stroke-width="0.75" stroke-linecap="round"/>
<line x1="49.42" y1="752.50" x2="58.92" y2="752.50" stroke="#000" stroke-width="0.75" stroke-linecap="round"/>
<text x="36.12" y="752.50" font-size="15.84" text-anchor="middle" transform="rotate(-90 36.12 752.50)" xml:space="preserve">-675</text>
<line x1="58.92" y1="586.75" x2="58.92" y2="752.50" stroke="#000" stroke-width="0.75" stroke-linecap="round"/>
<text x="17.02" y="664.93" font-size="15.84" text-anchor="middle" transform="rotate(-90 17.02 664.93)" textLength="114.06" lengthAdjust="spacing" xml:space="preserve">approx. per meg</text>
<text x="969.01" y="572.06" font-size="19.2" text-anchor="middle" font-weight="bold" textLength="82.95" lengthAdjust="spacing" xml:space="preserve">Linear Fit</text>
<rect x="692.258" y="575.661" width="553.500" height="178.534" fill="none" stroke="#000" stroke-width="0.75" stroke-linejoin="round"/>
<line x1="696.24" y1="754.20" x2="696.24" y2="763.70" stroke="#000" stroke-width="0.75" stroke-linecap="round"/>
<text x="696.24" y="789.00" font-size="15.84" text-anchor="middle" xml:space="preserve">-600</text>
<line x1="772.98" y1="754.20" x2="772.98" y2="763.70" stroke="#000" stroke-width="0.75" stroke-linecap="round"/>
<text x="772.98" y="789.00" font-size="15.84" text-anchor="middle" xml:space="preserve">-400</text>
<line x1="849.71" y1="754.20" x2="849.71" y2="763.70" stroke="#000" stroke-width="0.75" stroke-linecap="round"/>
<text x="849.71" y="789.00" font-size="15.84" text-anchor="middle" xml:space="preserve">-200</text>
<line x1="926.45" y1="754.20" x2="926.45" y2="763.70" stroke="#000" stroke-width="0.75" stroke-linecap="round"/>
<text x="926.45" y="789.00" font-size="15.84" text-anchor="middle" xml:space="preserve">0</text>
<line x1="1003.19" y1="754.20" x2="1003.19" y2="763.70" stroke="#000" stroke-width="0.75" stroke-linecap="round"/>
<text x="1003.19" y="789.00" font-size="15.84" text-anchor="middle" xml:space="preserve">200</text>
<line x1="1079.92" y1="754.20" x2="1079.92" y2="763.70" stroke="#000" stroke-width="0.75" stroke-linecap="round"/>
<text x="1079.92" y="789.00" font-size="15.84" text-anchor="middle" xml:space="preserve">400</text>
<line x1="1156.66" y1="754.20" x2="1156.66" y2="763.70" stroke="#000" stroke-width="0.75" stroke-linecap="round"/>
<text x="1156.66" y="789.00" font-size="15.84" text-anchor="middle" xml:space="preserve">600</text>
<line x1="1233.39" y1="754.20" x2="1233.39" y2="763.70" stroke="#000" stroke-width="0.75" stroke-linecap="round"/>
<text x="1233.39" y="789.00" font-size="15.84" text-anchor="middle" xml:space="preserve">800</text>
<line x1="696.24" y1="754.20" x2="1233.39" y2="754.20" stroke="#000" stroke-width="0.75" stroke-linecap="round"/>
<line x1="682.75" y1="750.24" x2="692.26" y2="750.24" stroke="#000" stroke-width="0.75" stroke-linecap="round"/>
<text x="669.46" y="750.24" font-size="15.84" text-anchor="middle" transform="rotate(-90 669.46 750.24)" xml:space="preserve">-800</text>
<line x1="682.75" y1="726.59" x2="692.26" y2="726.59" stroke="#000" stroke-width="0.75" stroke-linecap="round"/>
<line x1="682.75" y1="702.95" x2="692.26" y2="702.95" stroke="#000" stroke-width="0.75" stroke-linecap="round"/>
<text x="669.46" y="702.95" font-size="15.84" text-anchor="middle" transform="rotate(-90 669.46 702.95)" xml:space="preserve">-600</text>
<line x1="682.75" y1="679.31" x2="692.26" y2="679.31" stroke="#000" stroke-width="0.75" stroke-linecap="round"/>
<line x1="682.75" y1="655.66" x2="692.26" y2="655.66" stroke="#000" stroke-width="0.75" stroke-linecap="round"/>
<text x="669.46" y="655.66" font-size="15.84" text-anchor="middle" transform="rotate(-90 669.46 655.66)" xml:space="preserve">-400</text>
<line x1="682.75" y1="632.02" x2="692.26" y2="632.02" stroke="#000" stroke-width="0.75" stroke-linecap="round"/>
<line x1="682.75" y1="608.38" x2="692.26" y2="608.38" stroke="#000" stroke-width="0.75" stroke-linecap="round"/>
<text x="669.46" y="608.38" font-size="15.84" text-anchor="middle" transform="rotate(-90 669.46 608.38)" xml:space="preserve">-200</text>
<line x1="682.75" y1="584.74" x2="692.26" y2="584.74" stroke="#000" stroke-width="0.75" stroke-linecap="round"/>
<line x1="692.26" y1="750.24" x2="692.26" y2="584.74" stroke="#000" stroke-width="0.75" stroke-linecap="round"/>
<text x="650.36" y="664.93" font-size="15.84" text-anchor="middle" transform="rotate(-90 650.36 664.93)" textLength="114.06" lengthAdjust="spacing" xml:space="preserve">approx. per meg</text>
<text x="969.01" y="807.00" font-size="15.84" text-anchor="middle" textLength="77.40" lengthAdjust="spacing" xml:space="preserve">VUV signal</text>
<line x1="715.00" y1="582.24" x2="1225.60" y2="747.64" stroke="#000" stroke-width="0.75" stroke-linecap="round"/>
<circle cx="715.00" cy="581.64" r="3.56" fill="none" stroke="#A52A2A" stroke-width="0.75"/>
<circle cx="1134.50" cy="725.54" r="3.56" fill="none" stroke="#A52A2A" stroke-width="0.75"/>
<circle cx="1203.00" cy="746.54" r="3.56" fill="none" stroke="#A52A2A" stroke-width="0.75"/>
<circle cx="1224.40" cy="736.14" r="3.56" fill="none" stroke="#A52A2A" stroke-width="0.75"/>
<circle cx="1134.50" cy="718.34" r="3.56" fill="none" stroke="#FFA500" stroke-width="0.75"/>
<text x="1602.34" y="572.06" font-size="19.2" text-anchor="middle" font-weight="bold" textLength="201.70" lengthAdjust="spacing" xml:space="preserve">Residuals for Knowns</text>
<rect x="1325.591" y="575.661" width="553.500" height="178.534" fill="none" stroke="#000" stroke-width="0.75" stroke-linejoin="round"/>
<line x1="1329.58" y1="754.20" x2="1329.58" y2="763.70" stroke="#000" stroke-width="0.75" stroke-linecap="round"/>
<text x="1329.58" y="789.00" font-size="15.84" text-anchor="middle" xml:space="preserve">-600</text>
<line x1="1406.31" y1="754.20" x2="1406.31" y2="763.70" stroke="#000" stroke-width="0.75" stroke-linecap="round"/>
<text x="1406.31" y="789.00" font-size="15.84" text-anchor="middle" xml:space="preserve">-400</text>
<line x1="1483.05" y1="754.20" x2="1483.05" y2="763.70" stroke="#000" stroke-width="0.75" stroke-linecap="round"/>
<text x="1483.05" y="789.00" font-size="15.84" text-anchor="middle" xml:space="preserve">-200</text>
<line x1="1559.78" y1="754.20" x2="1559.78" y2="763.70" stroke="#000" stroke-width="0.75" stroke-linecap="round"/>
<text x="1559.78" y="789.00" font-size="15.84" text-anchor="middle" xml:space="preserve">0</text>
<line x1="1636.52" y1="754.20" x2="1636.52" y2="763.70" stroke="#000" stroke-width="0.75" stroke-linecap="round"/>
<text x="1636.52" y="789.00" font-size="15.84" text-anchor="middle" xml:space="preserve">200</text>
<line x1="1713.26" y1="754.20" x2="1713.26" y2="763.70" stroke="#000" stroke-width="0.75" stroke-linecap="round"/>
<text x="1713.26" y="789.00" font-size="15.84" text-anchor="middle" xml:space="preserve">400</text>
<line x1="1789.99" y1="754.20" x2="1789.99" y2="763.70" stroke="#000" stroke-width="0.75" stroke-linecap="round"/>
<text x="1789.99" y="789.00" font-size="15.84" text-anchor="middle" xml:space="preserve">600</text>
<line x1="1866.73" y1="754.20" x2="1866.73" y2="763.70" stroke="#000" stroke-width="0.75" stroke-linecap="round"/>
<text x="1866.73" y="789.00" font-size="15.84" text-anchor="middle" xml:space="preserve">800</text>
<line x1="1329.58" y1="754.20" x2="1866.73" y2="754.20" stroke="#000" stroke-width="0.75" stroke-linecap="round"/>
<line x1="1316.09" y1="747.49" x2="1325.59" y2="747.49" stroke="#000" stroke-width="0.75" stroke-linecap="round"/>
<text x="1302.79" y="747.49" font-size="15.84" text-anchor="middle" transform="rotate(-90 1302.79 747.49)" xml:space="preserve">-10</text>
<line x1="1316.09" y1="706.11" x2="1325.59" y2="706.11" stroke="#000" stroke-width="0.75" stroke-linecap="round"/>
<text x="1302.79" y="706.11" font-size="15.84" text-anchor="middle" transform="rotate(-90 1302.79 706.11)" xml:space="preserve">-5</text>
<line x1="1316.09" y1="664.74" x2="1325.59" y2="664.74" stroke="#000" stroke-width="0.75" stroke-linecap="round"/>
<text x="1302.79" y="664.74" font-size="15.84" text-anchor="middle" transform="rotate(-90 1302.79 664.74)" xml:space="preserve">0</text>
<line x1="1316.09" y1="623.36" x2="1325.59" y2="623.36" stroke="#000" stroke-width="0.75" stroke-linecap="round"/>
<text x="1302.79" y="623.36" font-size="15.84" text-anchor="middle" transform="rotate(-90 1302.79 623.36)" xml:space="preserve">5</text>
<line x1="1316.09" y1="581.99" x2="1325.59" y2="581.99" stroke="#000" stroke-width="0.75" stroke-linecap="round"/>
<text x="1302.79" y="581.99" font-size="15.84" text-anchor="middle" transform="rotate(-90 1302.79 581.99)" xml:space="preserve">10</text>
<line x1="1325.59" y1="747.49" x2="1325.59" y2="581.99" stroke="#000" stroke-width="0.75" stroke-linecap="round"/>
<text x="1283.69" y="664.93" font-size="15.84" text-anchor="middle" transform="rotate(-90 1283.69 664.93)" textLength="114.06" lengthAdjust="spacing" xml:space="preserve">approx. per meg</text>
<text x="1602.34" y="807.00" font-size="15.84" text-anchor="middle" textLength="77.40" lengthAdjust="spacing" xml:space="preserve">VUV signal</text>
<circle cx="1348.10" cy="715.54" r="3.56" fill="none" stroke="#A52A2A" stroke-width="0.75"/>
<text x="335.67" y="830.43" font-size="19.2" text-anchor="middle" font-weight="bold" textLength="245.82" lengthAdjust="spacing" xml:space="preserve">Slope =  -0.97  per meg/min</text>
<clipPath id="c3"><rect x="58.925" y="834.029" width="553.500" height="178.534"/></clipPath>
<polyline points="152.86,1012.47 154.73,1002.74 156.60,994.01 158.47,974.05 160.34,959.33 162.46,960.33 164.33,976.54 166.45,972.43 168.45,971.30 170.57,971.30 172.69,952.84 174.56,916.67 176.56,908.93 178.68,909.56 180.92,913.55 182.80,925.40 185.17,934.76 187.41,920.41 189.53,931.64 191.40,969.43 193.65,969.68 195.52,936.63 197.64,939.12 199.63,942.86 201.76,947.23 204.00,956.96 206.12,945.36 208.24,942.61 210.49,954.09 212.36,941.62 214.48,925.40 216.47,919.79 218.59,925.40 220.72,945.36 222.71,952.59 224.58,926.65 226.70,917.92 228.82,940.37 230.82,958.46 232.94,952.84 235.06,927.89 237.06,924.40 239.18,945.36 241.30,960.95 243.29,957.83 245.41,936.63 247.53,931.01 249.78,949.72 251.65,952.59 253.77,925.40 255.77,920.78 257.89,920.41 260.01,922.66 262.00,922.28 264.37,921.91 266.24,916.04 268.24,902.95 270.11,902.07 272.23,910.81 274.35,909.18 276.35,912.30 278.47,917.29 280.59,926.40 282.58,914.80 284.71,916.67 286.83,936.63 288.70,942.24 290.69,936.63 292.81,924.15 295.06,911.68 297.18,911.43 299.30,908.31 301.30,916.04 303.42,922.28 305.54,914.17 307.53,894.84 309.65,907.94 311.77,931.39 313.77,928.52 315.89,912.93 318.01,908.56 320.01,905.44 322.13,901.95 324.25,900.20 326.24,902.32 328.36,921.03 330.48,924.78 332.48,894.22 334.60,904.82 336.72,926.02 338.72,926.65 340.84,917.92 342.96,910.68 344.95,909.18 347.07,911.06 349.19,911.43 351.19,923.53 353.31,910.43 355.43,898.83 357.43,927.89 359.55,955.09 361.67,932.88 363.66,916.67 365.78,920.41 367.90,944.11 369.78,955.09 371.77,927.89 373.89,901.45 375.87,914.33 377.87,925.55 379.99,930.54 382.11,924.93 384.36,922.43 386.48,900.36 388.47,893.99 390.59,903.47 392.71,899.11 394.71,905.59 396.83,935.53 398.70,924.31 400.57,915.57 402.69,926.80 404.94,937.78 407.06,918.07 409.30,907.22 411.17,913.70 413.29,912.46 415.29,907.22 417.41,921.81 419.53,932.79 421.53,908.09 422.77,886.88 423.40,872.91 425.27,878.15 427.14,896.86 428.39,911.83 429.88,921.19 432.00,927.42 434.00,934.91 436.12,942.39 438.37,942.39 440.24,924.31 442.36,913.70 444.48,921.81 446.47,929.67 448.59,914.33 450.72,914.95 452.71,929.29 454.83,932.16 456.95,925.55 458.95,940.52 461.07,953.62 462.94,929.29 465.06,913.08 467.06,912.46 469.18,908.09 471.30,930.54 473.54,946.76 475.66,960.48 477.53,959.48 479.53,938.03 481.65,919.94 483.77,933.04 485.77,954.24 487.89,953.99 490.01,935.53 492.00,921.19 494.12,920.81 496.24,923.06 498.49,926.80 500.61,931.79 502.61,938.03 505.10,941.77 507.22,936.78 509.47,927.80 511.34,936.16 513.71,943.39 515.58,931.79 517.57,908.96 519.69,907.22 521.82,928.05 523.81,939.27 525.93,923.06 528.18,907.47 530.30,908.96 532.17,926.55 534.29,923.68 536.28,905.59 538.41,908.34 540.53,936.78 542.52,955.49 544.64,935.53 546.51,897.49 548.63,919.32 550.88,936.53 552.75,916.82 554.62,901.23 556.87,918.07 558.99,925.55 561.11,932.41 563.35,932.79 565.47,920.56 567.47,913.70 569.59,924.31 571.71,943.02 573.71,956.49 575.58,938.03 576.70,913.08 577.70,894.99 579.57,894.37 581.44,883.14 582.69,860.69 583.68,833.50" fill="none" stroke="#000" stroke-width="0.75" stroke-linejoin="round" clip-path="url(#c3)"/>
<line x1="343.60" y1="834.03" x2="343.60" y2="1012.56" stroke="#BEBEBE" stroke-width="0.75" stroke-linecap="round"/>
<line x1="499.45" y1="834.03" x2="499.45" y2="1012.56" stroke="#BEBEBE" stroke-width="0.75" stroke-linecap="round"/>
<circle cx="421.50" cy="923.20" r="3.56" fill="none" stroke="#FFA500" stroke-width="0.75"/>
<rect x="58.925" y="834.029" width="553.500" height="178.534" fill="none" stroke="#000" stroke-width="0.75" stroke-linejoin="round"/>
<line x1="97.00" y1="1012.56" x2="527.40" y2="1012.56" stroke="#000" stroke-width="0.75" stroke-linecap="round"/>
<line x1="97.00" y1="1012.56" x2="97.00" y2="1022.07" stroke="#000" stroke-width="0.75" stroke-linecap="round"/>
<text x="97.00" y="1047.00" font-size="15.84" text-anchor="middle" textLength="56.21" lengthAdjust="spacing" xml:space="preserve">152.030</text>
<line x1="183.08" y1="1012.56" x2="183.08" y2="1022.07" stroke="#000" stroke-width="0.75" stroke-linecap="round"/>
<text x="183.08" y="1047.00" font-size="15.84" text-anchor="middle" textLength="56.21" lengthAdjust="spacing" xml:space="preserve">152.031</text>
<line x1="269.16" y1="1012.56" x2="269.16" y2="1022.07" stroke="#000" stroke-width="0.75" stroke-linecap="round"/>
<text x="269.16" y="1047.00" font-size="15.84" text-anchor="middle" textLength="56.21" lengthAdjust="spacing" xml:space="preserve">152.032</text>
<line x1="355.24" y1="1012.56" x2="355.24" y2="1022.07" stroke="#000" stroke-width="0.75" stroke-linecap="round"/>
<text x="355.24" y="1047.00" font-size="15.84" text-anchor="middle" textLength="56.21" lengthAdjust="spacing" xml:space="preserve">152.033</text>
<line x1="441.32" y1="1012.56" x2="441.32" y2="1022.07" stroke="#000" stroke-width="0.75" stroke-linecap="round"/>
<text x="441.32" y="1047.00" font-size="15.84" text-anchor="middle" textLength="56.21" lengthAdjust="spacing" xml:space="preserve">152.034</text>
<line x1="527.40" y1="1012.56" x2="527.40" y2="1022.07" stroke="#000" stroke-width="0.75" stroke-linecap="round"/>
<text x="527.40" y="1047.00" font-size="15.84" text-anchor="middle" textLength="56.21" lengthAdjust="spacing" xml:space="preserve">152.035</text>
<text x="335.67" y="1066.00" font-size="15.84" text-anchor="middle" textLength="77.21" lengthAdjust="spacing" xml:space="preserve">day of year</text>
<line x1="49.42" y1="846.25" x2="58.92" y2="846.25" stroke="#000" stroke-width="0.75" stroke-linecap="round"/>
<text x="36.12" y="846.25" font-size="15.84" text-anchor="middle" transform="rotate(-90 36.12 846.25)" xml:space="preserve">-655</text>
<line x1="49.42" y1="887.50" x2="58.92" y2="887.50" stroke="#000" stroke-width="0.75" stroke-linecap="round"/>
<line x1="49.42" y1="928.75" x2="58.92" y2="928.75" stroke="#000" stroke-width="0.75" stroke-linecap="round"/>
<text x="36.12" y="928.75" font-size="15.84" text-anchor="middle" transform="rotate(-90 36.12 928.75)" xml:space="preserve">-665</text>
<line x1="49.42" y1="970.25" x2="58.92" y2="970.25" stroke="#000" stroke-width="0.75" stroke-linecap="round"/>
<line x1="49.42" y1="1011.50" x2="58.92" y2="1011.50" stroke="#000" stroke-width="0.75" stroke-linecap="round"/>
<text x="36.12" y="1011.50" font-size="15.84" text-anchor="middle" transform="rotate(-90 36.12 1011.50)" xml:space="preserve">-675</text>
<line x1="58.92" y1="846.25" x2="58.92" y2="1011.50" stroke="#000" stroke-width="0.75" stroke-linecap="round"/>
<text x="17.02" y="923.30" font-size="15.84" text-anchor="middle" transform="rotate(-90 17.02 923.30)" textLength="114.06" lengthAdjust="spacing" xml:space="preserve">approx. per meg</text>
<text x="969.01" y="830.43" font-size="19.2" text-anchor="middle" font-weight="bold" textLength="82.95" lengthAdjust="spacing" xml:space="preserve">Linear Fit</text>
<rect x="692.258" y="834.029" width="553.500" height="178.534" fill="none" stroke="#000" stroke-width="0.75" stroke-linejoin="round"/>
<line x1="696.24" y1="1012.56" x2="696.24" y2="1022.07" stroke="#000" stroke-width="0.75" stroke-linecap="round"/>
<text x="696.24" y="1047.00" font-size="15.84" text-anchor="middle" xml:space="preserve">-600</text>
<line x1="772.98" y1="1012.56" x2="772.98" y2="1022.07" stroke="#000" stroke-width="0.75" stroke-linecap="round"/>
<text x="772.98" y="1047.00" font-size="15.84" text-anchor="middle" xml:space="preserve">-400</text>
<line x1="849.71" y1="1012.56" x2="849.71" y2="1022.07" stroke="#000" stroke-width="0.75" stroke-linecap="round"/>
<text x="849.71" y="1047.00" font-size="15.84" text-anchor="middle" xml:space="preserve">-200</text>
<line x1="926.45" y1="1012.56" x2="926.45" y2="1022.07" stroke="#000" stroke-width="0.75" stroke-linecap="round"/>
<text x="926.45" y="1047.00" font-size="15.84" text-anchor="middle" xml:space="preserve">0</text>
<line x1="1003.19" y1="1012.56" x2="1003.19" y2="1022.07" stroke="#000" stroke-width="0.75" stroke-linecap="round"/>
<text x="1003.19" y="1047.00" font-size="15.84" text-anchor="middle" xml:space="preserve">200</text>
<line x1="1079.92" y1="1012.56" x2="1079.92" y2="1022.07" stroke="#000" stroke-width="0.75" stroke-linecap="round"/>
<text x="1079.92" y="1047.00" font-size="15.84" text-anchor="middle" xml:space="preserve">400</text>
<line x1="1156.66" y1="1012.56" x2="1156.66" y2="1022.07" stroke="#000" stroke-width="0.75" stroke-linecap="round"/>
<text x="1156.66" y="1047.00" font-size="15.84" text-anchor="middle" xml:space="preserve">600</text>
<line x1="1233.39" y1="1012.56" x2="1233.39" y2="1022.07" stroke="#000" stroke-width="0.75" stroke-linecap="round"/>
<text x="1233.39" y="1047.00" font-size="15.84" text-anchor="middle" xml:space="preserve">800</text>
<line x1="696.24" y1="1012.56" x2="1233.39" y2="1012.56" stroke="#000" stroke-width="0.75" stroke-linecap="round"/>
<line x1="682.75" y1="1008.61" x2="692.26" y2="1008.61" stroke="#000" stroke-width="0.75" stroke-linecap="round"/>
<text x="669.46" y="1008.61" font-size="15.84" text-anchor="middle" transform="rotate(-90 669.46 1008.61)" xml:space="preserve">-800</text>
<line x1="682.75" y1="984.96" x2="692.26" y2="984.96" stroke="#000" stroke-width="0.75" stroke-linecap="round"/>
<line x1="682.75" y1="961.32" x2="692.26" y2="961.32" stroke="#000" stroke-width="0.75" stroke-linecap="round"/>
<text x="669.46" y="961.32" font-size="15.84" text-anchor="middle" transform="rotate(-90 669.46 961.32)" xml:space="preserve">-600</text>
<line x1="682.75" y1="937.68" x2="692.26" y2="937.68" stroke="#000" stroke-width="0.75" stroke-linecap="round"/>
<line x1="682.75" y1="914.03" x2="692.26" y2="914.03" stroke="#000" stroke-width="0.75" stroke-linecap="round"/>
<text x="669.46" y="914.03" font-size="15.84" text-anchor="middle" transform="rotate(-90 669.46 914.03)" xml:space="preserve">-400</text>
<line x1="682.75" y1="890.39" x2="692.26" y2="890.39" stroke="#000" stroke-width="0.75" stroke-linecap="round"/>
<line x1="682.75" y1="866.75" x2="692.26" y2="866.75" stroke="#000" stroke-width="0.75" stroke-linecap="round"/>
<text x="669.46" y="866.75" font-size="15.84" text-anchor="middle" transform="rotate(-90 669.46 866.75)" xml:space="preserve">-200</text>
<line x1="682.75" y1="843.10" x2="692.26" y2="843.10" stroke="#000" stroke-width="0.75" stroke-linecap="round"/>
<line x1="692.26" y1="1008.61" x2="692.26" y2="843.10" stroke="#000" stroke-width="0.75" stroke-linecap="round"/>
<text x="650.36" y="923.30" font-size="15.84" text-anchor="middle" transform="rotate(-90 650.36 923.30)" textLength="114.06" lengthAdjust="spacing" xml:space="preserve">approx. per meg</text>
<text x="969.01" y="1066.00" font-size="15.84" text-anchor="middle" textLength="77.40" lengthAdjust="spacing" xml:space="preserve">VUV signal</text>
<line x1="715.00" y1="840.60" x2="1225.60" y2="1006.00" stroke="#000" stroke-width="0.75" stroke-linecap="round"/>
<circle cx="715.00" cy="840.00" r="3.56" fill="none" stroke="#A52A2A" stroke-width="0.75"/>
<circle cx="1134.50" cy="983.90" r="3.56" fill="none" stroke="#A52A2A" stroke-width="0.75"/>
<circle cx="1203.00" cy="1004.90" r="3.56" fill="none" stroke="#A52A2A" stroke-width="0.75"/>
<circle cx="1224.40" cy="994.50" r="3.56" fill="none" stroke="#A52A2A" stroke-width="0.75"/>
<circle cx="1134.50" cy="976.70" r="3.56" fill="none" stroke="#FFA500" stroke-width="0.75"/>
<text x="1602.34" y="830.43" font-size="19.2" text-anchor="middle" font-weight="bold" textLength="201.70" lengthAdjust="spacing" xml:space="preserve">Residuals for Knowns</text>
<rect x="1325.591" y="834.029" width="553.500" height="178.534" fill="none" stroke="#000" stroke-width="0.75" stroke-linejoin="round"/>
<line x1="1329.58" y1="1012.56" x2="1329.58" y2="1022.07" stroke="#000" stroke-width="0.75" stroke-linecap="round"/>
<text x="1329.58" y="1047.00" font-size="15.84" text-anchor="middle" xml:space="preserve">-600</text>
<line x1="1406.31" y1="1012.56" x2="1406.31" y2="1022.07" stroke="#000" stroke-width="0.75" stroke-linecap="round"/>
<text x="1406.31" y="1047.00" font-size="15.84" text-anchor="middle" xml:space="preserve">-400</text>
<line x1="1483.05" y1="1012.56" x2="1483.05" y2="1022.07" stroke="#000" stroke-width="0.75" stroke-linecap="round"/>
<text x="1483.05" y="1047.00" font-size="15.84" text-anchor="middle" xml:space="preserve">-200</text>
<line x1="1559.78" y1="1012.56" x2="1559.78" y2="1022.07" stroke="#000" stroke-width="0.75" stroke-linecap="round"/>
<text x="1559.78" y="1047.00" font-size="15.84" text-anchor="middle" xml:space="preserve">0</text>
<line x1="1636.52" y1="1012.56" x2="1636.52" y2="1022.07" stroke="#000" stroke-width="0.75" stroke-linecap="round"/>
<text x="1636.52" y="1047.00" font-size="15.84" text-anchor="middle" xml:space="preserve">200</text>
<line x1="1713.26" y1="1012.56" x2="1713.26" y2="1022.07" stroke="#000" stroke-width="0.75" stroke-linecap="round"/>
<text x="1713.26" y="1047.00" font-size="15.84" text-anchor="middle" xml:space="preserve">400</text>
<line x1="1789.99" y1="1012.56" x2="1789.99" y2="1022.07" stroke="#000" stroke-width="0.75" stroke-linecap="round"/>
<text x="1789.99" y="1047.00" font-size="15.84" text-anchor="middle" xml:space="preserve">600</text>
<line x1="1866.73" y1="1012.56" x2="1866.73" y2="1022.07" stroke="#000" stroke-width="0.75" stroke-linecap="round"/>
<text x="1866.73" y="1047.00" font-size="15.84" text-anchor="middle" xml:space="preserve">800</text>
<line x1="1329.58" y1="1012.56" x2="1866.73" y2="1012.56" stroke="#000" stroke-width="0.75" stroke-linecap="round"/>
<line x1="1316.09" y1="1005.85" x2="1325.59" y2="1005.85" stroke="#000" stroke-width="0.75" stroke-linecap="round"/>
<text x="1302.79" y="1005.85" font-size="15.84" text-anchor="middle" transform="rotate(-90 1302.79 1005.85)" xml:space="preserve">-10</text>
<line x1="1316.09" y1="964.48" x2="1325.59" y2="964.48" stroke="#000" stroke-width="0.75" stroke-linecap="round"/>
<text x="1302.79" y="964.48" font-size="15.84" text-anchor="middle" transform="rotate(-90 1302.79 964.48)" xml:space="preserve">-5</text>
<line x1="1316.09" y1="923.10" x2="1325.59" y2="923.10" stroke="#000" stroke-width="0.75" stroke-linecap="round"/>
<text x="1302.79" y="923.10" font-size="15.84" text-anchor="middle" transform="rotate(-90 1302.79 923.10)" xml:space="preserve">0</text>
<line x1="1316.09" y1="881.73" x2="1325.59" y2="881.73" stroke="#000" stroke-width="0.75" stroke-linecap="round"/>
<text x="1302.79" y="881.73" font-size="15.84" text-anchor="middle" transform="rotate(-90 1302.79 881.73)" xml:space="preserve">5</text>
<line x1="1316.09" y1="840.35" x2="1325.59" y2="840.35" stroke="#000" stroke-width="0.75" stroke-linecap="round"/>
<text x="1302.79" y="840.35" font-size="15.84" text-anchor="middle" transform="rotate(-90 1302.79 840.35)" xml:space="preserve">10</text>
<line x1="1325.59" y1="1005.85" x2="1325.59" y2="840.35" stroke="#000" stroke-width="0.75" stroke-linecap="round"/>
<text x="1283.69" y="923.30" font-size="15.84" text-anchor="middle" transform="rotate(-90 1283.69 923.30)" textLength="114.06" lengthAdjust="spacing" xml:space="preserve">approx. per meg</text>
<text x="1602.34" y="1066.00" font-size="15.84" text-anchor="middle" textLength="77.40" lengthAdjust="spacing" xml:space="preserve">VUV signal</text>
<circle cx="1348.10" cy="973.90" r="3.56" fill="none" stroke="#A52A2A" stroke-width="0.75"/>
</g></svg>
</body></html>
